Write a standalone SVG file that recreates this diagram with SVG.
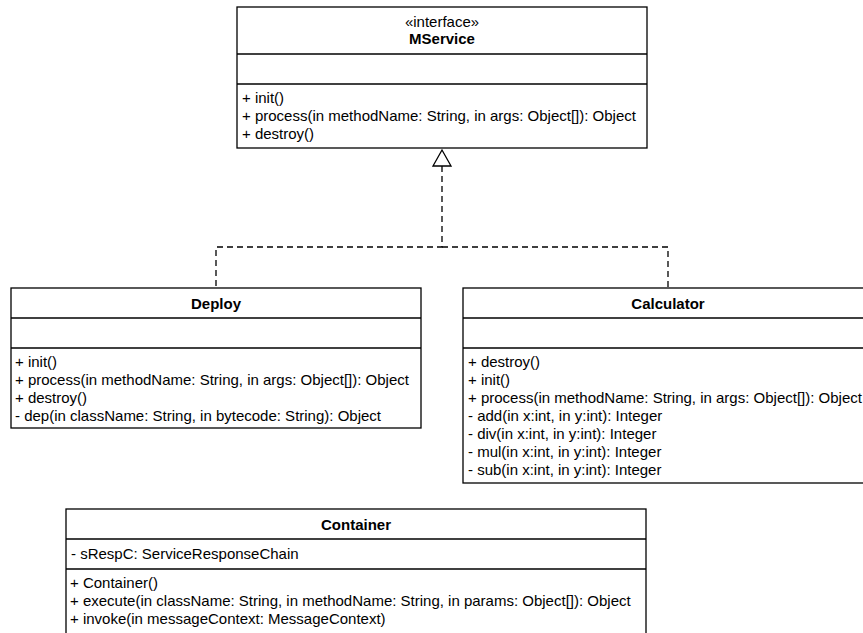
<svg xmlns="http://www.w3.org/2000/svg" width="863" height="633" viewBox="0 0 863 633">
<defs>
<style>
.box{fill:#ffffff;stroke:#000000;stroke-width:1.3}
.sep{stroke:#000000;stroke-width:1.3;fill:none}
.t{font-family:"Liberation Sans",Arial,Helvetica,sans-serif;font-size:15px;fill:#000000}
.b{font-weight:bold;text-anchor:middle}
.c{text-anchor:middle}
.dash{fill:none;stroke:#000000;stroke-width:1.3;stroke-dasharray:6 4}
.tri{fill:#ffffff;stroke:#000000;stroke-width:1.3}
</style>
</defs>
<rect width="863" height="633" fill="#ffffff"/>
<g id="connectors">
<path class="dash" d="M442 166 V247 H216 V288"/>
<path class="dash" d="M442 247 H668 V288"/>
<polygon class="tri" points="442,150 433,166 451,166"/>
</g>
<g id="MService">
<rect class="box" x="237" y="7" width="410" height="141"/>
<line class="sep" x1="237" y1="54" x2="647" y2="54"/>
<line class="sep" x1="237" y1="84" x2="647" y2="84"/>
<text class="t c" x="442" y="27">«interface»</text>
<text class="t b" x="442" y="44">MService</text>
<text class="t" x="242" y="102.7">+ init()</text>
<text class="t" x="242" y="120.7">+ process(in methodName: String, in args: Object[]): Object</text>
<text class="t" x="242" y="138.7">+ destroy()</text>
</g>
<g id="Deploy">
<rect class="box" x="11" y="288" width="410" height="140"/>
<line class="sep" x1="11" y1="318" x2="421" y2="318"/>
<line class="sep" x1="11" y1="348" x2="421" y2="348"/>
<text class="t b" x="216" y="308.5">Deploy</text>
<text class="t" x="15" y="366.7">+ init()</text>
<text class="t" x="15" y="384.7">+ process(in methodName: String, in args: Object[]): Object</text>
<text class="t" x="15" y="402.7">+ destroy()</text>
<text class="t" x="15" y="420.7">- dep(in className: String, in bytecode: String): Object</text>
</g>
<g id="Calculator">
<rect class="box" x="463" y="288" width="410" height="195"/>
<line class="sep" x1="463" y1="318" x2="873" y2="318"/>
<line class="sep" x1="463" y1="348" x2="873" y2="348"/>
<text class="t b" x="668" y="308.5">Calculator</text>
<text class="t" x="468" y="366.7">+ destroy()</text>
<text class="t" x="468" y="384.7">+ init()</text>
<text class="t" x="468" y="402.7">+ process(in methodName: String, in args: Object[]): Object</text>
<text class="t" x="468" y="420.7">- add(in x:int, in y:int): Integer</text>
<text class="t" x="468" y="438.7">- div(in x:int, in y:int): Integer</text>
<text class="t" x="468" y="456.7">- mul(in x:int, in y:int): Integer</text>
<text class="t" x="468" y="474.7">- sub(in x:int, in y:int): Integer</text>
</g>
<g id="Container">
<rect class="box" x="66" y="509" width="580" height="126"/>
<line class="sep" x1="66" y1="539" x2="646" y2="539"/>
<line class="sep" x1="66" y1="569" x2="646" y2="569"/>
<text class="t b" x="356" y="529.5">Container</text>
<text class="t" x="71" y="558.5">- sRespC: ServiceResponseChain</text>
<text class="t" x="70" y="587.7">+ Container()</text>
<text class="t" x="70" y="605.7">+ execute(in className: String, in methodName: String, in params: Object[]): Object</text>
<text class="t" x="70" y="623.7">+ invoke(in messageContext: MessageContext)</text>
</g>
</svg>
